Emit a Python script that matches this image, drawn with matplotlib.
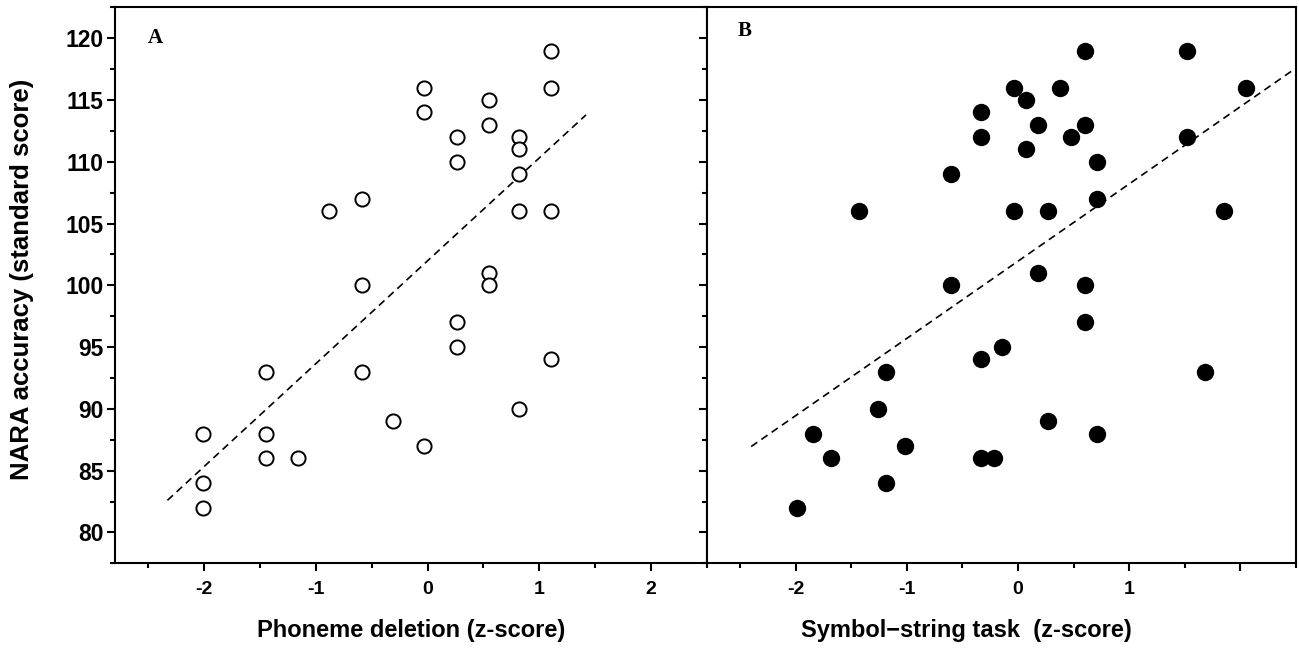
import matplotlib
matplotlib.use("Agg")
import matplotlib.pyplot as plt
from matplotlib.ticker import MultipleLocator, FixedLocator
import numpy as np

# panel A: phoneme deletion vs NARA accuracy
phoneme_z = [1.11, -0.03, 1.11, 0.55, -0.03, 0.55, 0.26, 0.82, 0.82, 0.26, 0.82,
             -0.59, -0.88, 0.82, 1.11, 0.55, -0.59, 0.55, 0.26, 0.26, 1.11, -1.45,
             -0.59, 0.82, -0.31, -2.01, -1.45, -0.03, -1.45, -1.16, -2.01, -2.01]
nara_a = [119, 116, 116, 115, 114, 113, 112, 112, 111, 110, 109,
          107, 106, 106, 106, 101, 100, 100, 97, 95, 94, 93,
          93, 90, 89, 88, 88, 87, 86, 86, 84, 82]
fit_a_x = [-2.33, 1.42]
fit_a_y = [82.6, 113.8]

# panel B: symbol-string task vs NARA accuracy
symbol_z = [-1.99, -1.84, -1.68, -1.43, -1.19, -1.26, -1.19, -1.02, -0.60, -0.60,
            -0.33, -0.33, -0.33, -0.33, -0.22, -0.14, -0.04, -0.04, 0.07, 0.07,
            0.18, 0.18, 0.27, 0.27, 0.38, 0.48, 0.60, 0.60, 0.60, 0.60,
            0.71, 0.71, 0.71, 1.52, 1.52, 1.68, 1.85, 2.05]
nara_b = [82, 88, 86, 106, 93, 90, 84, 87, 109, 100,
          114, 112, 94, 86, 86, 95, 116, 106, 115, 111,
          113, 101, 106, 89, 116, 112, 119, 113, 100, 97,
          110, 107, 88, 119, 112, 93, 106, 116]
fit_b_x = [-2.40, 2.47]
fit_b_y = [86.95, 117.4]

xticks_a = [-2, -1, 0, 1, 2]
xlabels_a = ['-2', '-1', '0', '1', '2']
xticks_b = [-2, -1, 0, 1, 2]
xlabels_b = ['-2', '-1', '0', '1', '']
yticks = [80, 85, 90, 95, 100, 105, 110, 115, 120]

sans = ['Liberation Sans', 'DejaVu Sans']
serif = ['Liberation Serif', 'DejaVu Serif']
lw = 1.5

fig = plt.figure(figsize=(12.99, 6.49), dpi=100)
ax_a = fig.add_axes([0.0885, 0.132, 0.4555, 0.8567])
ax_b = fig.add_axes([0.5440, 0.132, 0.4537, 0.8567])

for ax in (ax_a, ax_b):
    ax.set_xlim(-2.8, 2.5)
    ax.set_ylim(77.5, 122.5)
    for sp in ax.spines.values():
        sp.set_linewidth(lw)
    ax.yaxis.set_major_locator(FixedLocator(yticks))
    ax.yaxis.set_minor_locator(MultipleLocator(2.5))
    ax.xaxis.set_minor_locator(MultipleLocator(0.5))
    ax.tick_params(which='major', direction='out', length=6, width=lw, top=False, right=False)
    ax.tick_params(which='minor', direction='out', length=3.5, width=lw, top=False, right=False)
    ax.tick_params(axis='x', which='major', pad=7)

# panel A
ax_a.plot(fit_a_x, fit_a_y, color='black', lw=1.2, ls=(0, (4.5, 3)))
ax_a.plot(phoneme_z, nara_a, 'o', ms=10.2, mfc='white', mec='black', mew=1.4, ls='none')
ax_a.set_xticks(xticks_a)
ax_a.set_xticklabels(xlabels_a, fontsize=14, fontweight='bold', family=sans)
ax_a.set_yticklabels([str(v) for v in yticks], fontsize=16.5, fontweight='bold', family=sans)
ax_a.tick_params(axis='y', which='major', pad=2)
ax_a.set_xlabel('Phoneme deletion (z-score)', fontsize=17, fontweight='bold', family=sans)
ax_a.xaxis.set_label_coords(0.5, -0.10)
ax_a.set_ylabel('NARA accuracy (standard score)', fontsize=18.5, fontweight='bold', family=sans)
ax_a.yaxis.set_label_coords(-0.137, 0.51)
ax_a.text(0.056, 0.944, 'A', transform=ax_a.transAxes, fontsize=15, fontweight='bold',
          family=serif, ha='left', va='center')

# panel B
ax_b.plot(fit_b_x, fit_b_y, color='black', lw=1.2, ls=(0, (4.5, 3)))
ax_b.plot(symbol_z, nara_b, 'o', ms=12.5, mfc='black', mec='black', mew=0, ls='none')
ax_b.set_xticks(xticks_b)
ax_b.set_xticklabels(xlabels_b, fontsize=14, fontweight='bold', family=sans)
ax_b.set_yticklabels([])
ax_b.set_xlabel('Symbol\u2212string task  (z-score)', fontsize=17, fontweight='bold', family=sans)
ax_b.xaxis.set_label_coords(0.44, -0.10)
ax_b.text(0.053, 0.958, 'B', transform=ax_b.transAxes, fontsize=15, fontweight='bold',
          family=serif, ha='left', va='center')

fig.savefig('out.png', dpi=100)
